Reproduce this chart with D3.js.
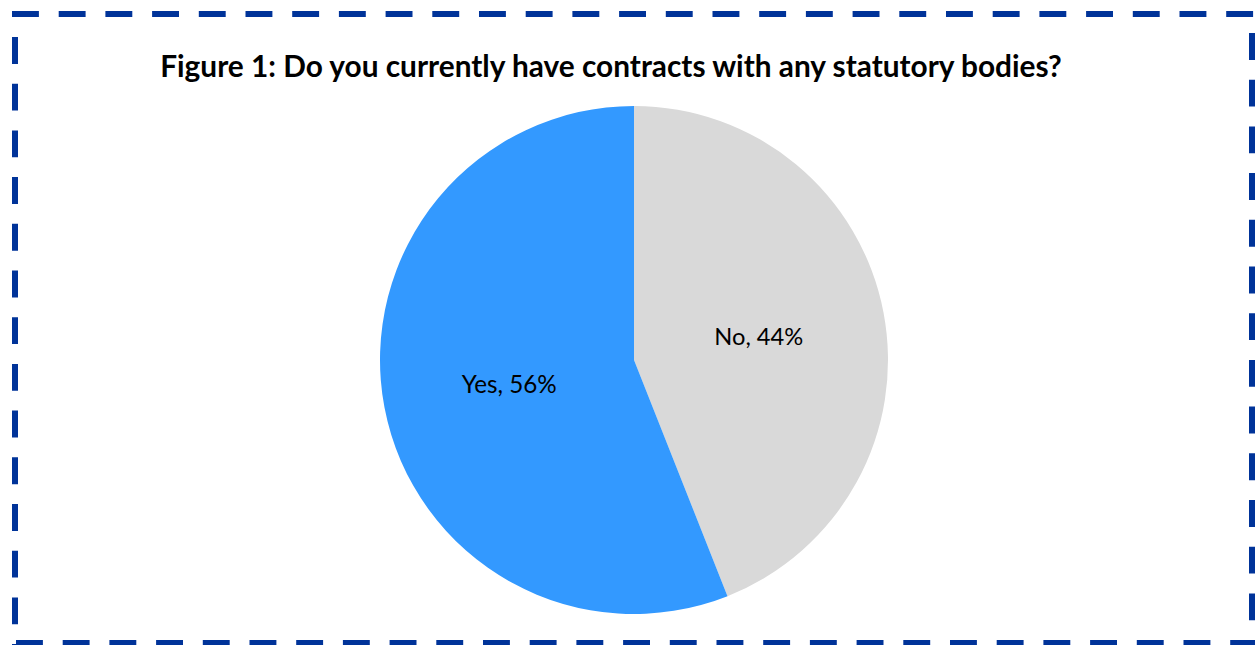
<!DOCTYPE html>
<html>
<head>
<meta charset="utf-8">
<script src="https://cdn.jsdelivr.net/npm/d3@7"></script>
<style>
  html, body { margin: 0; padding: 0; background: #fff; }
  svg { display: block; }
</style>
</head>
<body>
<svg id="chart" width="1255" height="645"></svg>
<script>
// Survey answers and their shares (percent)
const categories = ["No", "Yes"];
const shares = [44, 56];
const sliceColors = ["#D9D9D9", "#3399FF"];
const title = "Figure 1: Do you currently have contracts with any statutory bodies?";

const W = 1255, H = 645;
const svg = d3.select("#chart");

// Dashed frame around the chart area, one line per side
const frameColor = "#003399";
const dash = "26.9 19.8";
const sides = [
  { x1: 12, y1: 14, x2: 1255, y2: 14, off: 0 },       // top
  { x1: 15, y1: 37, x2: 15, y2: 645, off: 0 },        // left
  { x1: 1252, y1: 33, x2: 1252, y2: 645, off: 0 },    // right
  { x1: 16, y1: 643, x2: 1255, y2: 643, off: 0 }      // bottom
];
svg.append("g").selectAll("line").data(sides).join("line")
  .attr("x1", d => d.x1).attr("y1", d => d.y1)
  .attr("x2", d => d.x2).attr("y2", d => d.y2)
  .attr("stroke", frameColor)
  .attr("stroke-width", 6)
  .attr("stroke-dasharray", dash)
  .attr("stroke-dashoffset", d => d.off);

// Title, fitted to its line width
const titleText = svg.append("text")
  .attr("x", 611).attr("y", 77)
  .attr("text-anchor", "middle")
  .attr("font-family", "Lato, 'Open Sans', sans-serif")
  .attr("font-weight", "bold")
  .attr("font-size", 28)
  .attr("fill", "#000")
  .text(title);
const tw = titleText.node().getComputedTextLength();
titleText.attr("font-size", 28 * 902 / tw);

// Pie
const cx = 634, cy = 360, R = 254;
const data = categories.map((c, i) => ({ cat: c, value: shares[i], color: sliceColors[i] }));
const pie = d3.pie().value(d => d.value).sort(null);
const arc = d3.arc().innerRadius(0).outerRadius(R);
const g = svg.append("g").attr("transform", `translate(${cx},${cy})`);
const arcs = pie(data);

g.selectAll("path").data(arcs).join("path")
  .attr("d", arc)
  .attr("fill", d => d.data.color);

// Data labels at the slice centroids
const labelWidths = { No: 89, Yes: 95 };
g.selectAll("text.lbl").data(arcs).join("text")
  .attr("class", "lbl")
  .attr("x", d => arc.centroid(d)[0])
  .attr("y", d => arc.centroid(d)[1])
  .attr("text-anchor", "middle")
  .attr("dominant-baseline", "central")
  .attr("font-family", "Lato, 'Open Sans', sans-serif")
  .attr("font-size", 22)
  .attr("fill", "#000")
  .text(d => `${d.data.cat}, ${d.data.value}%`)
  .each(function(d) {
    const w = this.getComputedTextLength();
    d3.select(this).attr("font-size", 22 * labelWidths[d.data.cat] / w);
  });
</script>
</body>
</html>
